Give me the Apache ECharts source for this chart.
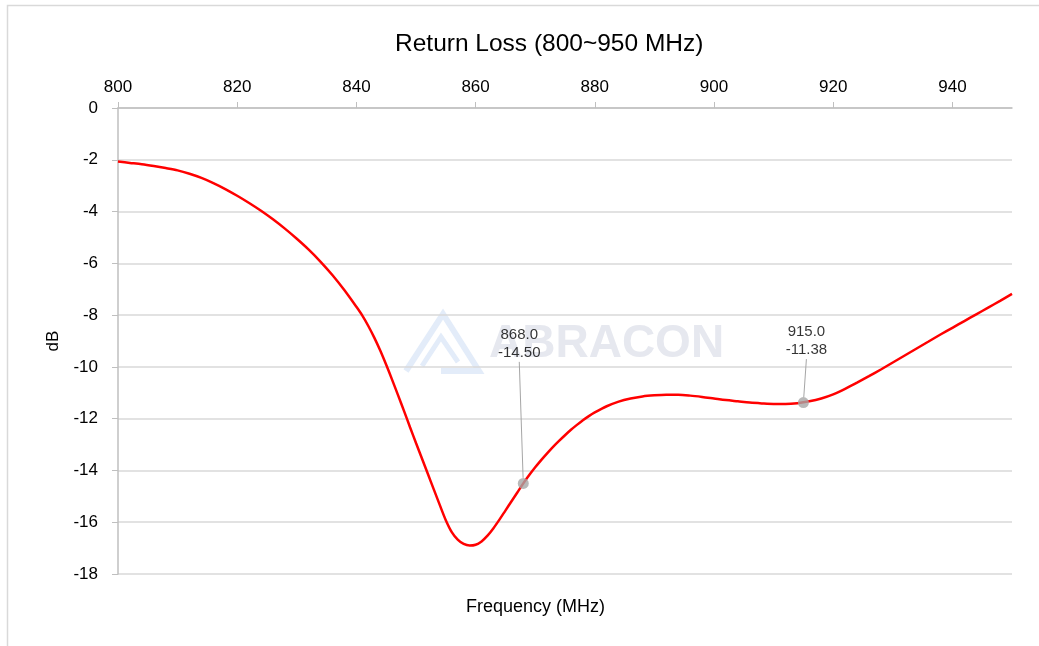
<!DOCTYPE html>
<html>
<head>
<meta charset="utf-8">
<script src="https://cdn.jsdelivr.net/npm/echarts@6/dist/echarts.min.js"></script>
<style>html,body{margin:0;padding:0;background:#fff;}#c{width:1039px;height:646px;}</style>
</head>
<body>
<div id="c"></div>
<script>
var freq = [800, 802, 804, 806, 808, 810, 812, 814, 816, 818, 820, 822, 824, 826, 828, 830, 832, 834, 836, 838,
  840, 841, 842, 843, 844, 845, 846, 847, 848, 849, 850, 851, 852, 853, 854, 855, 856, 857, 858, 859,
  860, 861, 862, 863, 864, 865, 866, 867, 868, 869, 870, 871, 872, 873, 874, 875, 876, 877, 878, 879,
  880, 882, 884, 886, 888, 890, 892, 894, 896, 898, 900, 902, 904, 906, 908, 910, 912, 914, 916, 918,
  920, 922, 924, 926, 928, 930, 932, 934, 936, 938, 940, 942, 944, 946, 948, 950];
var returnLoss = [-2.07, -2.12, -2.17, -2.24, -2.32, -2.41, -2.54, -2.70, -2.90, -3.13, -3.39, -3.67, -3.97, -4.30, -4.66, -5.05, -5.47, -5.94, -6.46, -7.04,
  -7.68, -8.02, -8.42, -8.87, -9.37, -9.92, -10.50, -11.10, -11.71, -12.33, -12.94, -13.54, -14.14, -14.74, -15.34, -15.92, -16.38, -16.67, -16.84, -16.90,
  -16.87, -16.74, -16.52, -16.23, -15.90, -15.55, -15.20, -14.85, -14.50, -14.18, -13.88, -13.60, -13.34, -13.09, -12.86, -12.64, -12.43, -12.24, -12.06, -11.90,
  -11.76, -11.52, -11.34, -11.22, -11.14, -11.10, -11.08, -11.08, -11.11, -11.16, -11.22, -11.28, -11.33, -11.38, -11.41, -11.43, -11.43, -11.40, -11.33, -11.22,
  -11.06, -10.85, -10.61, -10.36, -10.10, -9.83, -9.56, -9.29, -9.02, -8.75, -8.49, -8.23, -7.97, -7.71, -7.45, -7.18];
var markerFreq = [868.0, 915.0];
var markerValue = [-14.50, -11.38];
var xTicks = [800, 820, 840, 860, 880, 900, 920, 940];
var yTicks = [0, -2, -4, -6, -8, -10, -12, -14, -16, -18];

var chart = echarts.init(document.getElementById('c'), null, {renderer: 'canvas'});
var font = 'Liberation Sans, Arial, sans-serif';
var labelDy = [-111, -33];
chart.setOption({
  animation: false,
  backgroundColor: '#fff',
  title: {
    text: 'Return Loss (800~950 MHz)',
    left: 390, top: 27,
    textStyle: {fontFamily: font, fontSize: 24.5, fontWeight: 'normal', color: '#000'}
  },
  grid: {left: 118, right: 27, top: 108, bottom: 72},
  xAxis: {
    type: 'value', position: 'top', min: 800, max: 950, interval: 20,
    axisLine: {show: true, lineStyle: {color: '#bfbfbf', width: 1.5}},
    axisTick: {show: true, length: 6, lineStyle: {color: '#bfbfbf'}},
    axisLabel: {showMaxLabel: false, margin: 12, fontFamily: font, fontSize: 17, color: '#000',
      formatter: function (v) { return xTicks.indexOf(v) >= 0 ? String(v) : ''; }},
    splitLine: {show: false}
  },
  yAxis: {
    type: 'value', min: -18, max: 0, interval: 2,
    name: 'dB', nameLocation: 'middle', nameGap: 56, nameRotate: 90,
    nameTextStyle: {fontFamily: font, fontSize: 17, color: '#000'},
    axisLine: {show: true, lineStyle: {color: '#bfbfbf', width: 1.5}},
    axisTick: {show: true, length: 6, lineStyle: {color: '#bfbfbf'}},
    axisLabel: {margin: 20, fontFamily: font, fontSize: 17, color: '#000',
      formatter: function (v) { return yTicks.indexOf(v) >= 0 ? String(v) : ''; }},
    splitLine: {show: true, lineStyle: {color: '#d9d9d9', width: 1.5}}
  },
  graphic: [
    {type: 'rect', shape: {x: 7.5, y: 5.5, width: 1100, height: 700}, style: {fill: null, stroke: '#d9d9d9', lineWidth: 1.5}, z: -10},
    {type: 'polyline', shape: {points: [[406, 371], [443, 314], [479, 371], [441, 371]]}, style: {fill: null, stroke: '#e3ecf9', lineWidth: 6}, z: -5},
    {type: 'polyline', shape: {points: [[422, 366], [441, 337], [458, 362]]}, style: {fill: null, stroke: '#e3ecf9', lineWidth: 5}, z: -5},
    {type: 'text', left: 489, top: 321, style: {text: 'ABRACON', font: 'bold 46px Liberation Sans, Arial, sans-serif', fill: '#e6e8ef'}, z: -5},
    {type: 'text', left: 466, top: 598, style: {text: 'Frequency (MHz)', font: '18px Liberation Sans, Arial, sans-serif', fill: '#000'}}
  ],
  series: [
    {
      type: 'line', smooth: 0.3, symbol: 'none',
      data: freq.map(function (f, i) { return [f, returnLoss[i]]; }),
      lineStyle: {color: '#ff0000', width: 2.5}, z: 3
    },
    {
      type: 'scatter', symbolSize: 11,
      itemStyle: {color: '#a6a6a6'},
      data: markerFreq.map(function (f, i) { return [f, markerValue[i]]; }),
      label: {
        show: true, position: 'top', fontFamily: font, fontSize: 15, color: '#000', lineHeight: 18,
        formatter: function (p) { return p.value[0].toFixed(1) + '\n' + p.value[1].toFixed(2); }
      },
      labelLayout: function (p) { return {dx: p.dataIndex === 0 ? -4 : 3, dy: labelDy[p.dataIndex]}; },
      labelLine: {show: true, lineStyle: {color: '#a6a6a6', width: 1}},
      z: 4
    }
  ]
});
</script>
</body>
</html>
